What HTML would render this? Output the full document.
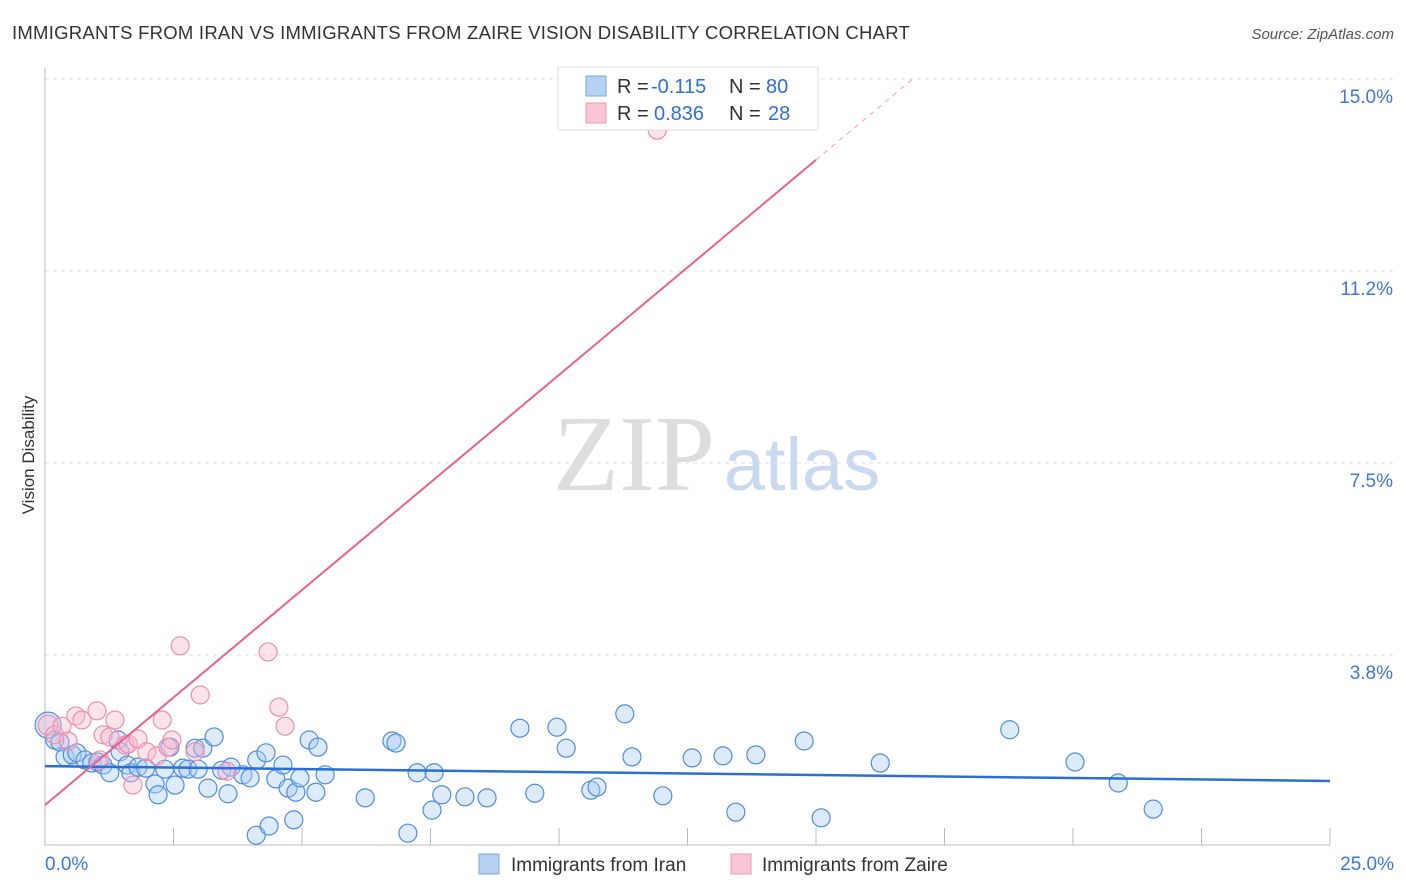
<!DOCTYPE html>
<html><head><meta charset="utf-8"><style>
body{margin:0;background:#fff;font-family:"Liberation Sans",sans-serif}
svg{display:block}
</style></head><body>
<svg id="chart" width="1406" height="892">
<text x="12" y="39" font-size="18.5" letter-spacing="0.25" fill="#333">IMMIGRANTS FROM IRAN VS IMMIGRANTS FROM ZAIRE VISION DISABILITY CORRELATION CHART</text>
<text x="1394" y="39" font-size="15" fill="#555" font-style="italic" text-anchor="end">Source: ZipAtlas.com</text>
<text transform="translate(34,455) rotate(-90)" font-size="17" fill="#333" text-anchor="middle">Vision Disability</text>
<g><text x="634" y="490" font-size="108" font-family="Liberation Serif,serif" fill="#ddd" text-anchor="middle">ZIP</text><text x="802" y="490" font-size="74" fill="#c9daf0" text-anchor="middle">atlas</text></g>
<g id="grid"></g><g id="axes"></g><g id="marks"></g>
<g>
<rect x="558" y="67" width="260" height="63" fill="#fff" stroke="#ddd"/>
<rect x="586" y="76" width="20" height="20" fill="#b7d1f3" stroke="#7aa6e0"/>
<rect x="586" y="103" width="20" height="20" fill="#f9c6d5" stroke="#ee9ab4"/>
<text x="617" y="93" font-size="20" fill="#333">R =</text>
<text x="651" y="93" font-size="20" fill="#2e6fd8">-0.115</text>
<text x="729" y="93" font-size="20" fill="#333">N =</text>
<text x="766" y="93" font-size="20" fill="#2e6fd8">80</text>
<text x="617" y="120" font-size="20" fill="#333">R =</text>
<text x="654" y="120" font-size="20" fill="#2e6fd8">0.836</text>
<text x="729" y="120" font-size="20" fill="#333">N =</text>
<text x="768" y="120" font-size="20" fill="#2e6fd8">28</text>
</g>
<g>
<rect x="479" y="854" width="20" height="20" fill="#b7d1f3" stroke="#7aa6e0"/>
<text x="511" y="871" font-size="19" fill="#333">Immigrants from Iran</text>
<rect x="731" y="854" width="20" height="20" fill="#f9c6d5" stroke="#ee9ab4"/>
<text x="762" y="871" font-size="19" fill="#333">Immigrants from Zaire</text>
</g>
</svg>
<script>
const yTicks=[3.75,7.5,11.25,15];
const yTickLabels=["3.8%","7.5%","11.2%","15.0%"];
const xTickLabels=["0.0%","25.0%"];
const iranX=[0.06,0.19,0.29,0.39,0.53,0.62,0.78,0.91,1.03,1.13,1.26,1.42,1.46,1.60,1.67,1.81,1.96,2.14,2.20,2.33,2.43,2.53,2.68,2.78,2.92,2.98,3.07,3.17,3.29,3.44,3.56,3.62,3.85,3.99,4.11,4.12,4.30,4.36,4.49,4.63,4.73,4.84,4.88,4.96,5.14,5.27,5.31,5.45,6.23,6.75,6.83,7.06,7.24,7.53,7.57,7.72,8.17,8.60,9.24,9.53,9.96,10.14,10.62,10.74,11.28,11.42,12.02,12.59,13.19,13.44,13.83,14.77,15.10,16.25,18.77,20.04,20.88,21.56];
const iranY=[2.38,2.09,2.05,1.76,1.80,1.84,1.70,1.64,1.66,1.60,1.45,2.09,1.86,1.60,1.45,1.56,1.54,1.23,1.02,1.52,1.95,1.21,1.54,1.52,1.93,1.52,1.93,1.15,2.15,1.50,1.04,1.56,1.41,1.35,0.23,1.70,1.84,0.41,1.33,1.60,1.15,0.53,1.07,1.35,2.09,1.07,1.95,1.41,0.96,2.07,2.03,0.27,1.45,0.72,1.45,1.02,0.98,0.96,2.32,1.05,2.34,1.93,1.11,1.17,2.60,1.76,1.00,1.74,1.78,0.68,1.80,2.07,0.57,1.64,2.29,1.66,1.25,0.74];
const zaireX=[0.06,0.19,0.33,0.45,0.60,0.72,1.01,1.13,1.36,1.26,1.56,1.62,1.81,1.71,1.98,2.18,2.28,2.39,2.47,2.63,2.92,3.02,3.54,4.34,4.55,4.67,11.91,1.07];
const zaireY=[2.38,2.19,2.36,2.07,2.56,2.48,2.66,2.19,2.48,2.15,1.99,2.01,2.11,1.21,1.86,1.78,2.48,1.95,2.09,3.93,1.86,2.97,1.48,3.81,2.73,2.36,14.00,1.70];
const iranTrend=[1.58,1.29];
const zaireTrend=[0.82,0.84];
const NS="http://www.w3.org/2000/svg";
const X=v=>45+v*51.4, Y=v=>847-v*51.2;
function mk(p,t,a){const e=document.createElementNS(NS,t);for(const k in a)e.setAttribute(k,a[k]);document.getElementById(p).appendChild(e);return e;}
yTicks.forEach((t,i)=>{
 const g=mk('grid','line',{x1:45,x2:1395,y1:Y(t),y2:Y(t),stroke:'#ddd','stroke-dasharray':'4,4'});
 
 
 const l=mk('grid','text',{x:1393,y:Y(t)+24,'font-size':19,fill:'#3b78d8','text-anchor':'end'});
 l.textContent=yTickLabels[i];
 
 
});
const ax=mk('axes','path',{d:'M45,68V845H1330',fill:'none',stroke:'#bbb'});


for(let i=1;i<=10;i++){const t=mk('axes','line',{x1:X(i*2.5),x2:X(i*2.5),y1:828,y2:845,stroke:'#bbb'});
 
 }
[[0,'start',45],[25,'end',1394]].forEach((d,i)=>{const t=mk('axes','text',{x:d[2],y:870,'font-size':19,fill:'#3b78d8','text-anchor':d[1]});t.textContent=xTickLabels[i];
 
 });
iranX.forEach((x,i)=>{const c=mk('marks','circle',{cx:X(x),cy:Y(iranY[i]),r:i==0?13:9,fill:'rgba(170,202,242,0.4)',stroke:'#4f8ce0','stroke-width':1.2});
 
 });
zaireX.forEach((x,i)=>{const c=mk('marks','circle',{cx:X(x),cy:Y(zaireY[i]),r:i==0?10:9,fill:'rgba(246,185,204,0.4)',stroke:'#ec8fae','stroke-width':1.2});
 
 });
const bl=mk('marks','line',{x1:X(0),y1:Y(iranTrend[0]),x2:X(25),y2:Y(iranTrend[1]),stroke:'#2a6fd6','stroke-width':2.5});


const zy=x=>zaireTrend[0]+zaireTrend[1]*x;
const pl=mk('marks','line',{x1:X(0),y1:Y(zy(0)),x2:X(15),y2:Y(zy(15)),stroke:'#e8628e','stroke-width':2});


const pd=mk('marks','line',{x1:X(15),y1:Y(zy(15)),x2:X(16.9),y2:Y(zy(16.9)),stroke:'#f0a0b8','stroke-width':1,'stroke-dasharray':'5,5'});


</script>
</body></html>
